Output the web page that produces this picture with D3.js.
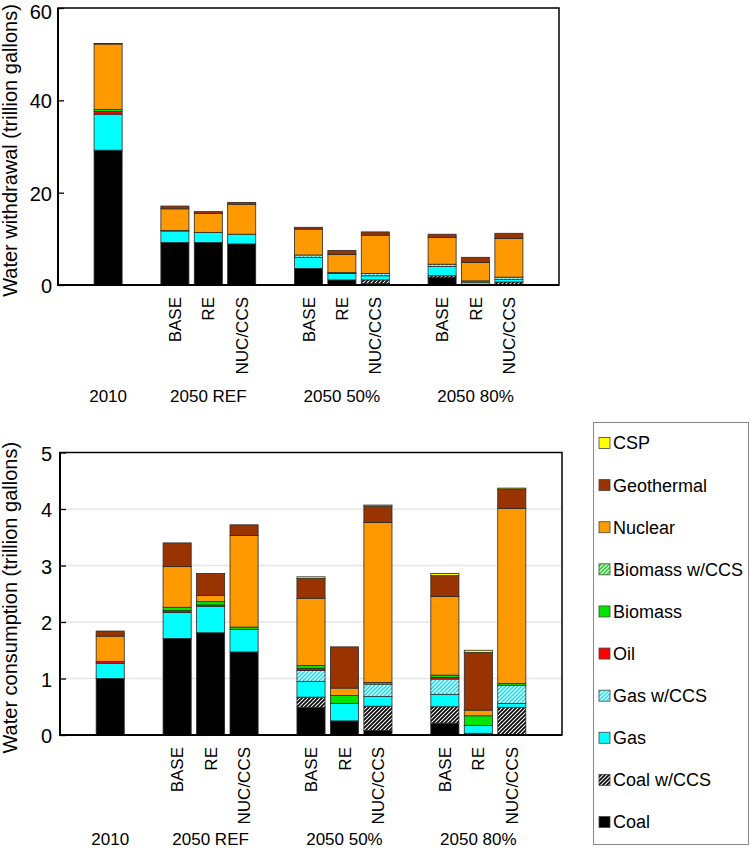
<!DOCTYPE html>
<html><head><meta charset="utf-8">
<script src="https://cdn.jsdelivr.net/npm/d3@7"></script>
<style>
body{margin:0;background:#fff}
svg text{font-family:"Liberation Sans",Arial,Helvetica,sans-serif;fill:#000}
</style>
</head><body>
<svg id="c" width="750" height="852"></svg>
<script>
// ---------- DATA ----------
const barKeys = ["2010","REF BASE","REF RE","REF NUC/CCS","50 BASE","50 RE","50 NUC/CCS","80 BASE","80 RE","80 NUC/CCS"];
const scenarioLabels = ["","BASE","RE","NUC/CCS","BASE","RE","NUC/CCS","BASE","RE","NUC/CCS"];
const groupLabels = ["2010","2050 REF","2050 50%","2050 80%"];
const groupCenters = ["2010","REF RE","50 RE","80 RE"];
const slots = ["g0","2010","g1","REF BASE","REF RE","REF NUC/CCS","g2","50 BASE","50 RE","50 NUC/CCS","g3","80 BASE","80 RE","80 NUC/CCS","g4"];
const seriesNames = ["Coal","Coal w/CCS","Gas","Gas w/CCS","Oil","Biomass","Biomass w/CCS","Nuclear","Geothermal","CSP"];

// Water withdrawal (trillion gallons)
const wCoal       = [29.2, 9.2, 9.2, 8.9, 3.6, 1.1, 0.3, 1.6, 0.05, 0];
const wCoalCCS    = [0, 0, 0, 0, 0, 0, 0.8, 0.4, 0, 0.65];
const wGas        = [7.8, 2.5, 2.2, 2.1, 2.4, 1.4, 0.9, 2.0, 0.55, 0.55];
const wGasCCS     = [0, 0, 0, 0, 0.5, 0, 0.5, 0.5, 0, 0.5];
const wOil        = [0.6, 0.1, 0, 0, 0, 0, 0, 0, 0, 0];
const wBiomass    = [0.4, 0, 0, 0, 0, 0.2, 0, 0, 0.3, 0];
const wBiomassCCS = [0, 0, 0, 0, 0, 0, 0, 0, 0, 0];
const wNuclear    = [14.2, 4.7, 4.1, 6.5, 5.6, 3.9, 8.3, 5.8, 4.0, 8.4];
const wGeothermal = [0.1, 0.6, 0.4, 0.4, 0.4, 0.9, 0.7, 0.7, 1.1, 1.1];
const wCSP        = [0, 0, 0, 0, 0, 0, 0, 0, 0, 0];

// Water consumption (trillion gallons)
const cCoal       = [1.0, 1.71, 1.81, 1.47, 0.49, 0.25, 0.08, 0.21, 0.03, 0];
const cCoalCCS    = [0, 0, 0, 0, 0.18, 0, 0.43, 0.29, 0, 0.49];
const cGas        = [0.27, 0.46, 0.47, 0.40, 0.28, 0.31, 0.17, 0.22, 0.14, 0.07];
const cGasCCS     = [0, 0, 0, 0, 0.19, 0, 0.22, 0.27, 0, 0.32];
const cOil        = [0.03, 0.03, 0.02, 0, 0.04, 0, 0, 0.03, 0, 0];
const cBiomass    = [0, 0.06, 0.06, 0.04, 0.05, 0.14, 0.03, 0.04, 0.17, 0.03];
const cBiomassCCS = [0, 0, 0, 0, 0, 0, 0, 0, 0, 0];
const cNuclear    = [0.45, 0.72, 0.11, 1.62, 1.19, 0.13, 2.83, 1.39, 0.10, 3.10];
const cGeothermal = [0.09, 0.42, 0.39, 0.19, 0.35, 0.73, 0.29, 0.37, 1.02, 0.34];
const cCSP        = [0, 0, 0, 0, 0.03, 0, 0.02, 0.04, 0.04, 0.02];

const wTicks = [0, 20, 40, 60];
const cTicks = [0, 1, 2, 3, 4, 5];

// ---------- STYLE ----------
const fills = {"Coal":"#000000","Coal w/CCS":"url(#hCoal)","Gas":"#00ffff","Gas w/CCS":"url(#hGas)",
  "Oil":"#ff0000","Biomass":"#00e600","Biomass w/CCS":"url(#hBio)","Nuclear":"#ff9900",
  "Geothermal":"#993300","CSP":"#ffff00"};

const svg = d3.select("#c");
const defs = svg.append("defs");
function hatch(id, color, sw){
  const p = defs.append("pattern").attr("id", id).attr("patternUnits","userSpaceOnUse")
    .attr("width",4).attr("height",4);
  p.append("rect").attr("width",4).attr("height",4).attr("fill","#fff");
  p.append("path").attr("d","M-1,1 l2,-2 M0,4 l4,-4 M3,5 l2,-2")
    .attr("stroke",color).attr("stroke-width",sw);
}
hatch("hCoal","#000",1.7);
hatch("hGas","#00e0f0",1.5);
hatch("hBio","#00cc00",1.5);

function buildRows(arrs){
  return barKeys.map((k,i)=>{
    const o = {key:k};
    seriesNames.forEach((s,j)=>{ o[s] = arrs[j][i]; });
    return o;
  });
}

function drawPanel(cfg){
  const {x0,x1,y0,y1,domainMax,ticks,arrs,title,tickGap,grid,labelY,groupY,topNudge} = cfg;
  const x = d3.scaleBand().domain(slots).range([x0,x1]).paddingInner(0.16).paddingOuter(0.08);
  const y = d3.scaleLinear().domain([0,domainMax]).range([y1,y0]);
  const g = svg.append("g");
  if(grid){
    g.selectAll("line.grid").data(ticks.filter(t=>t>0 && t<domainMax)).join("line")
      .attr("x1",x0).attr("x2",x1).attr("y1",d=>y(d)).attr("y2",d=>y(d))
      .attr("stroke","#e6e6e6").attr("stroke-width",1.5);
  }
  const rows = buildRows(arrs);
  const stacked = d3.stack().keys(seriesNames)(rows);
  g.selectAll("g.s").data(stacked).join("g")
    .attr("fill",d=>fills[d.key])
    .selectAll("rect").data(d=>d.filter(p=>p[1]-p[0]>0)).join("rect")
    .attr("x",d=>x(d.data.key)).attr("width",x.bandwidth())
    .attr("y",d=>y(d[1])).attr("height",d=>y(d[0])-y(d[1]))
    .attr("stroke","#2a2a2a").attr("stroke-width",0.8);

  // box
  g.append("rect").attr("x",x0).attr("y",y0).attr("width",x1-x0).attr("height",y1-y0)
    .attr("fill","none").attr("stroke","#000").attr("stroke-width",1.5);
  g.append("line").attr("x1",x0).attr("x2",x0).attr("y1",y0).attr("y2",y1+1).attr("stroke","#000").attr("stroke-width",2);
  g.append("line").attr("x1",x0-1).attr("x2",x1).attr("y1",y1).attr("y2",y1).attr("stroke","#000").attr("stroke-width",2);

  // y axis (inward ticks)
  const ax = d3.axisLeft(y).tickValues(ticks).tickSizeInner(-6).tickSizeOuter(0).tickPadding(tickGap).tickFormat(d3.format("d"));
  const ag = g.append("g").attr("transform",`translate(${x0},0)`).call(ax);
  ag.select(".domain").remove();
  ag.selectAll(".tick line").attr("stroke","#000").attr("stroke-width",1.3);
  ag.selectAll(".tick text").attr("font-size",20).attr("dy","0.38em")
    .attr("y",d=> d===domainMax ? topNudge : 0)
    .attr("font-family","Liberation Sans, Arial, sans-serif");

  // y title
  g.append("text").attr("transform",`translate(17,${(y0+y1)/2+4}) rotate(-90)`)
    .attr("text-anchor","middle").attr("font-size",20).text(title);

  // scenario labels
  g.selectAll("text.sc").data(barKeys.map((k,i)=>({k,l:scenarioLabels[i]})).filter(d=>d.l)).join("text")
    .attr("transform",d=>`translate(${x(d.k)+x.bandwidth()/2},${labelY}) rotate(-90)`)
    .attr("text-anchor","end").attr("dy","0.36em").attr("font-size",17).text(d=>d.l);
  // group labels
  g.selectAll("text.gr").data(groupLabels.map((l,i)=>({l,k:groupCenters[i]}))).join("text")
    .attr("x",d=>x(d.k)+x.bandwidth()/2).attr("y",groupY)
    .attr("text-anchor","middle").attr("font-size",17).text(d=>d.l);
}

drawPanel({x0:58,x1:559,y0:8,y1:285,domainMax:60,ticks:wTicks,
  arrs:[wCoal,wCoalCCS,wGas,wGasCCS,wOil,wBiomass,wBiomassCCS,wNuclear,wGeothermal,wCSP],
  title:"Water withdrawal (trillion gallons)",tickGap:6,grid:false,labelY:297,groupY:402,topNudge:2.5});

drawPanel({x0:60,x1:562,y0:452.5,y1:735,domainMax:5,ticks:cTicks,
  arrs:[cCoal,cCoalCCS,cGas,cGasCCS,cOil,cBiomass,cBiomassCCS,cNuclear,cGeothermal,cCSP],
  title:"Water consumption (trillion gallons)",tickGap:8,grid:true,labelY:747,groupY:845,topNudge:0});

// ---------- LEGEND ----------
const lg = svg.append("g");
lg.append("rect").attr("x",593.5).attr("y",422.5).attr("width",155).attr("height",422)
  .attr("fill","#fff").attr("stroke","#888").attr("stroke-width",1);
const legendOrder = seriesNames.slice().reverse();
const ly = d3.scalePoint().domain(legendOrder).range([443,822]);
const li = lg.selectAll("g.li").data(legendOrder).join("g")
  .attr("transform",d=>`translate(0,${ly(d)})`);
li.append("rect").attr("x",599).attr("y",-5.5).attr("width",11).attr("height",11)
  .attr("fill",d=>fills[d]).attr("stroke","#444").attr("stroke-width",0.8);
li.append("text").attr("x",613).attr("dy","0.36em").attr("font-size",18).text(d=>d);
</script>
</body></html>
